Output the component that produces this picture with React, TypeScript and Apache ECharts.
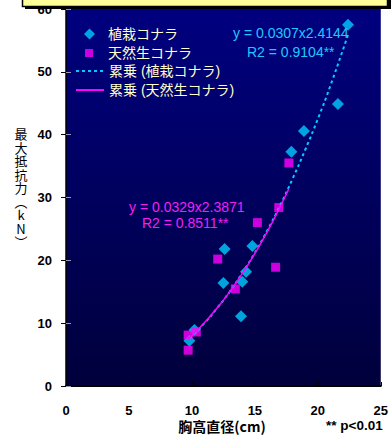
import React, { useEffect, useRef } from "react";
import * as echarts from "echarts";

// 植栽コナラ (planted) – DBH (cm) and max resistance (kN)
const plantedX = [22.4, 21.6, 18.9, 17.9, 12.6, 14.8, 14.3, 12.5, 14.0, 13.9, 10.2, 9.8];
const plantedY = [57.5, 44.9, 40.6, 37.3, 21.8, 22.3, 18.2, 16.4, 16.6, 11.1, 8.9, 7.2];
// 天然生コナラ (natural)
const naturalX = [17.7, 16.9, 15.2, 12.05, 16.65, 13.45, 10.35, 9.7, 9.7];
const naturalY = [35.5, 28.4, 26.0, 20.2, 18.9, 15.45, 8.6, 8.1, 5.7];
// power trend lines
const plantedTrendX = [9.8, 11, 12, 13, 14, 15, 16, 17, 18, 19, 20, 21, 22.4];
const plantedTrendY = [7.6, 10.0, 12.4, 15.0, 18.0, 21.2, 24.8, 28.7, 33.0, 37.6, 42.5, 47.8, 55.9];
const naturalTrendX = [9.7, 10, 11, 12, 13, 14, 15, 16, 17, 17.7];
const naturalTrendY = [7.5, 8.0, 10.1, 12.4, 15.0, 17.9, 21.1, 24.6, 28.5, 31.4];

const seriesNames = ["植栽コナラ", "天然生コナラ", "累乗 (植栽コナラ)", "累乗 (天然生コナラ)"];
const eqPlanted = ["y = 0.0307x2.4144", "R2 = 0.9104**"];
const eqNatural = ["y = 0.0329x2.3871", "R2 = 0.8511**"];
const xTitle = "胸高直径(cm)";
const yTitleChars = ["最", "大", "抵", "抗", "力", "︵", "k", "N", "︶"];
const note = "** p<0.01";

const CYAN = "#00ccff";
const MAGENTA = "#ff00ff";
const FONT = "'Liberation Sans', Arial, 'Noto Sans CJK JP', sans-serif";

const zip = (xs: number[], ys: number[]) => xs.map((x, i) => [x, ys[i]]);

export default function App() {
  const ref = useRef<HTMLDivElement>(null);
  useEffect(() => {
    if (!ref.current) return;
    const chart = echarts.init(ref.current, undefined, { renderer: "svg" });
    const legendBase = {
      orient: "vertical" as const,
      padding: 0,
      selectedMode: false,
      symbolKeepAspect: true,
    };
    const legendText = (pad: number) => ({
      color: "#ffffcc",
      fontSize: 14,
      fontFamily: FONT,
      padding: [0, 0, 0, pad],
    });
    chart.setOption({
      animation: false,
      backgroundColor: "#ffffff",
      grid: {
        left: 66,
        right: 2.5,
        top: 9,
        bottom: 49,
        show: true,
        borderWidth: 0,
        backgroundColor: new echarts.graphic.LinearGradient(0, 0, 0, 1, [
          { offset: 0, color: "#000080" },
          { offset: 1, color: "#00003c" },
        ]),
      },
      legend: [
        {
          ...legendBase,
          left: 84,
          top: 27,
          itemWidth: 11,
          itemHeight: 11,
          textStyle: legendText(8),
          data: [seriesNames[0]],
        },
        {
          ...legendBase,
          left: 85,
          top: 46,
          itemWidth: 8,
          itemHeight: 8,
          textStyle: legendText(10),
          data: [seriesNames[1]],
        },
        {
          ...legendBase,
          left: 75,
          top: 64,
          itemWidth: 28,
          itemHeight: 14,
          itemStyle: { opacity: 0 },
          textStyle: legendText(0),
          data: [seriesNames[2]],
        },
        {
          ...legendBase,
          left: 75,
          top: 83,
          itemWidth: 28,
          itemHeight: 14,
          itemStyle: { opacity: 0 },
          textStyle: legendText(0),
          data: [seriesNames[3]],
        },
      ],
      xAxis: {
        type: "value",
        min: 0,
        max: 25,
        interval: 5,
        axisLine: { show: true, lineStyle: { color: "#000", width: 2 } },
        axisTick: { show: true, inside: true, length: 4, lineStyle: { color: "#000" } },
        splitLine: { show: false },
        axisLabel: { color: "#000", fontWeight: "bold", fontSize: 13, fontFamily: FONT, margin: 18 },
      },
      yAxis: [
        {
          type: "value",
          min: 0,
          max: 60,
          interval: 10,
          axisLine: { show: true, lineStyle: { color: "#000", width: 1.5 } },
          axisTick: { show: true, length: 5, lineStyle: { color: "#000" } },
          splitLine: { show: false },
          axisLabel: { color: "#000", fontWeight: "bold", fontSize: 13, fontFamily: FONT, margin: 14 },
        },
        {
          type: "value",
          position: "left",
          min: 0,
          max: 60,
          interval: 10,
          axisLine: { show: false },
          axisTick: { show: true, inside: true, length: 5, lineStyle: { color: "#9a9ab0" } },
          splitLine: { show: false },
          axisLabel: { show: false },
        },
      ],
      series: [
        {
          name: seriesNames[0],
          type: "scatter",
          symbol: "diamond",
          symbolSize: 12,
          itemStyle: { color: CYAN },
          data: zip(plantedX, plantedY),
          z: 2,
        },
        {
          name: seriesNames[1],
          type: "scatter",
          symbol: "rect",
          symbolSize: 9,
          itemStyle: { color: MAGENTA },
          data: zip(naturalX, naturalY),
          z: 3,
        },
        {
          name: seriesNames[2],
          type: "line",
          smooth: true,
          symbol: "none",
          lineStyle: { color: CYAN, width: 2, type: [3, 3] },
          itemStyle: { color: CYAN },
          data: zip(plantedTrendX, plantedTrendY),
          z: 4,
        },
        {
          name: seriesNames[3],
          type: "line",
          smooth: true,
          symbol: "none",
          lineStyle: { color: MAGENTA, width: 1.5 },
          itemStyle: { color: MAGENTA },
          data: zip(naturalTrendX, naturalTrendY),
          z: 5,
        },
      ],
      graphic: [
        {
          type: "rect",
          z: 100,
          shape: { x: 25, y: 0, width: 366, height: 9 },
          style: { fill: "#000" },
        },
        {
          type: "rect",
          z: 101,
          shape: { x: 22.5, y: -3, width: 365, height: 9.5 },
          style: { fill: "#ffff99", stroke: "#000", lineWidth: 1.5 },
        },
        {
          type: "text",
          z: 50,
          x: 233,
          y: 33,
          style: { text: eqPlanted[0], fill: "#1ec8ff", fontSize: 14, fontFamily: FONT, verticalAlign: "middle" },
        },
        {
          type: "text",
          z: 50,
          x: 247,
          y: 52,
          style: { text: eqPlanted[1], fill: "#1ec8ff", fontSize: 14, fontFamily: FONT, verticalAlign: "middle" },
        },
        {
          type: "text",
          z: 50,
          x: 129,
          y: 207,
          style: { text: eqNatural[0], fill: "#f020f0", fontSize: 14, fontFamily: FONT, verticalAlign: "middle" },
        },
        {
          type: "text",
          z: 50,
          x: 142,
          y: 223,
          style: { text: eqNatural[1], fill: "#f020f0", fontSize: 14, fontFamily: FONT, verticalAlign: "middle" },
        },
        {
          type: "text",
          x: 21,
          y: 127,
          style: {
            text: yTitleChars.join("\n"),
            fill: "#000",
            fontSize: 13,
            lineHeight: 13.5,
            fontFamily: "'Noto Sans CJK JP', sans-serif",
            align: "center",
            verticalAlign: "top",
          },
        },
        {
          type: "text",
          x: 222,
          y: 426,
          style: {
            text: xTitle,
            fill: "#000",
            fontSize: 14,
            fontWeight: "bold",
            fontFamily: "'Noto Sans CJK JP', sans-serif",
            align: "center",
            verticalAlign: "middle",
          },
        },
        {
          type: "text",
          x: 326,
          y: 425,
          style: {
            text: note,
            fill: "#000",
            fontSize: 13.5,
            fontWeight: "bold",
            fontFamily: FONT,
            verticalAlign: "middle",
          },
        },
      ],
    });
    return () => chart.dispose();
  }, []);
  return (
    <div
      ref={ref}
      style={{ position: "fixed", left: 0, top: 0, width: 391, height: 435 }}
    />
  );
}
